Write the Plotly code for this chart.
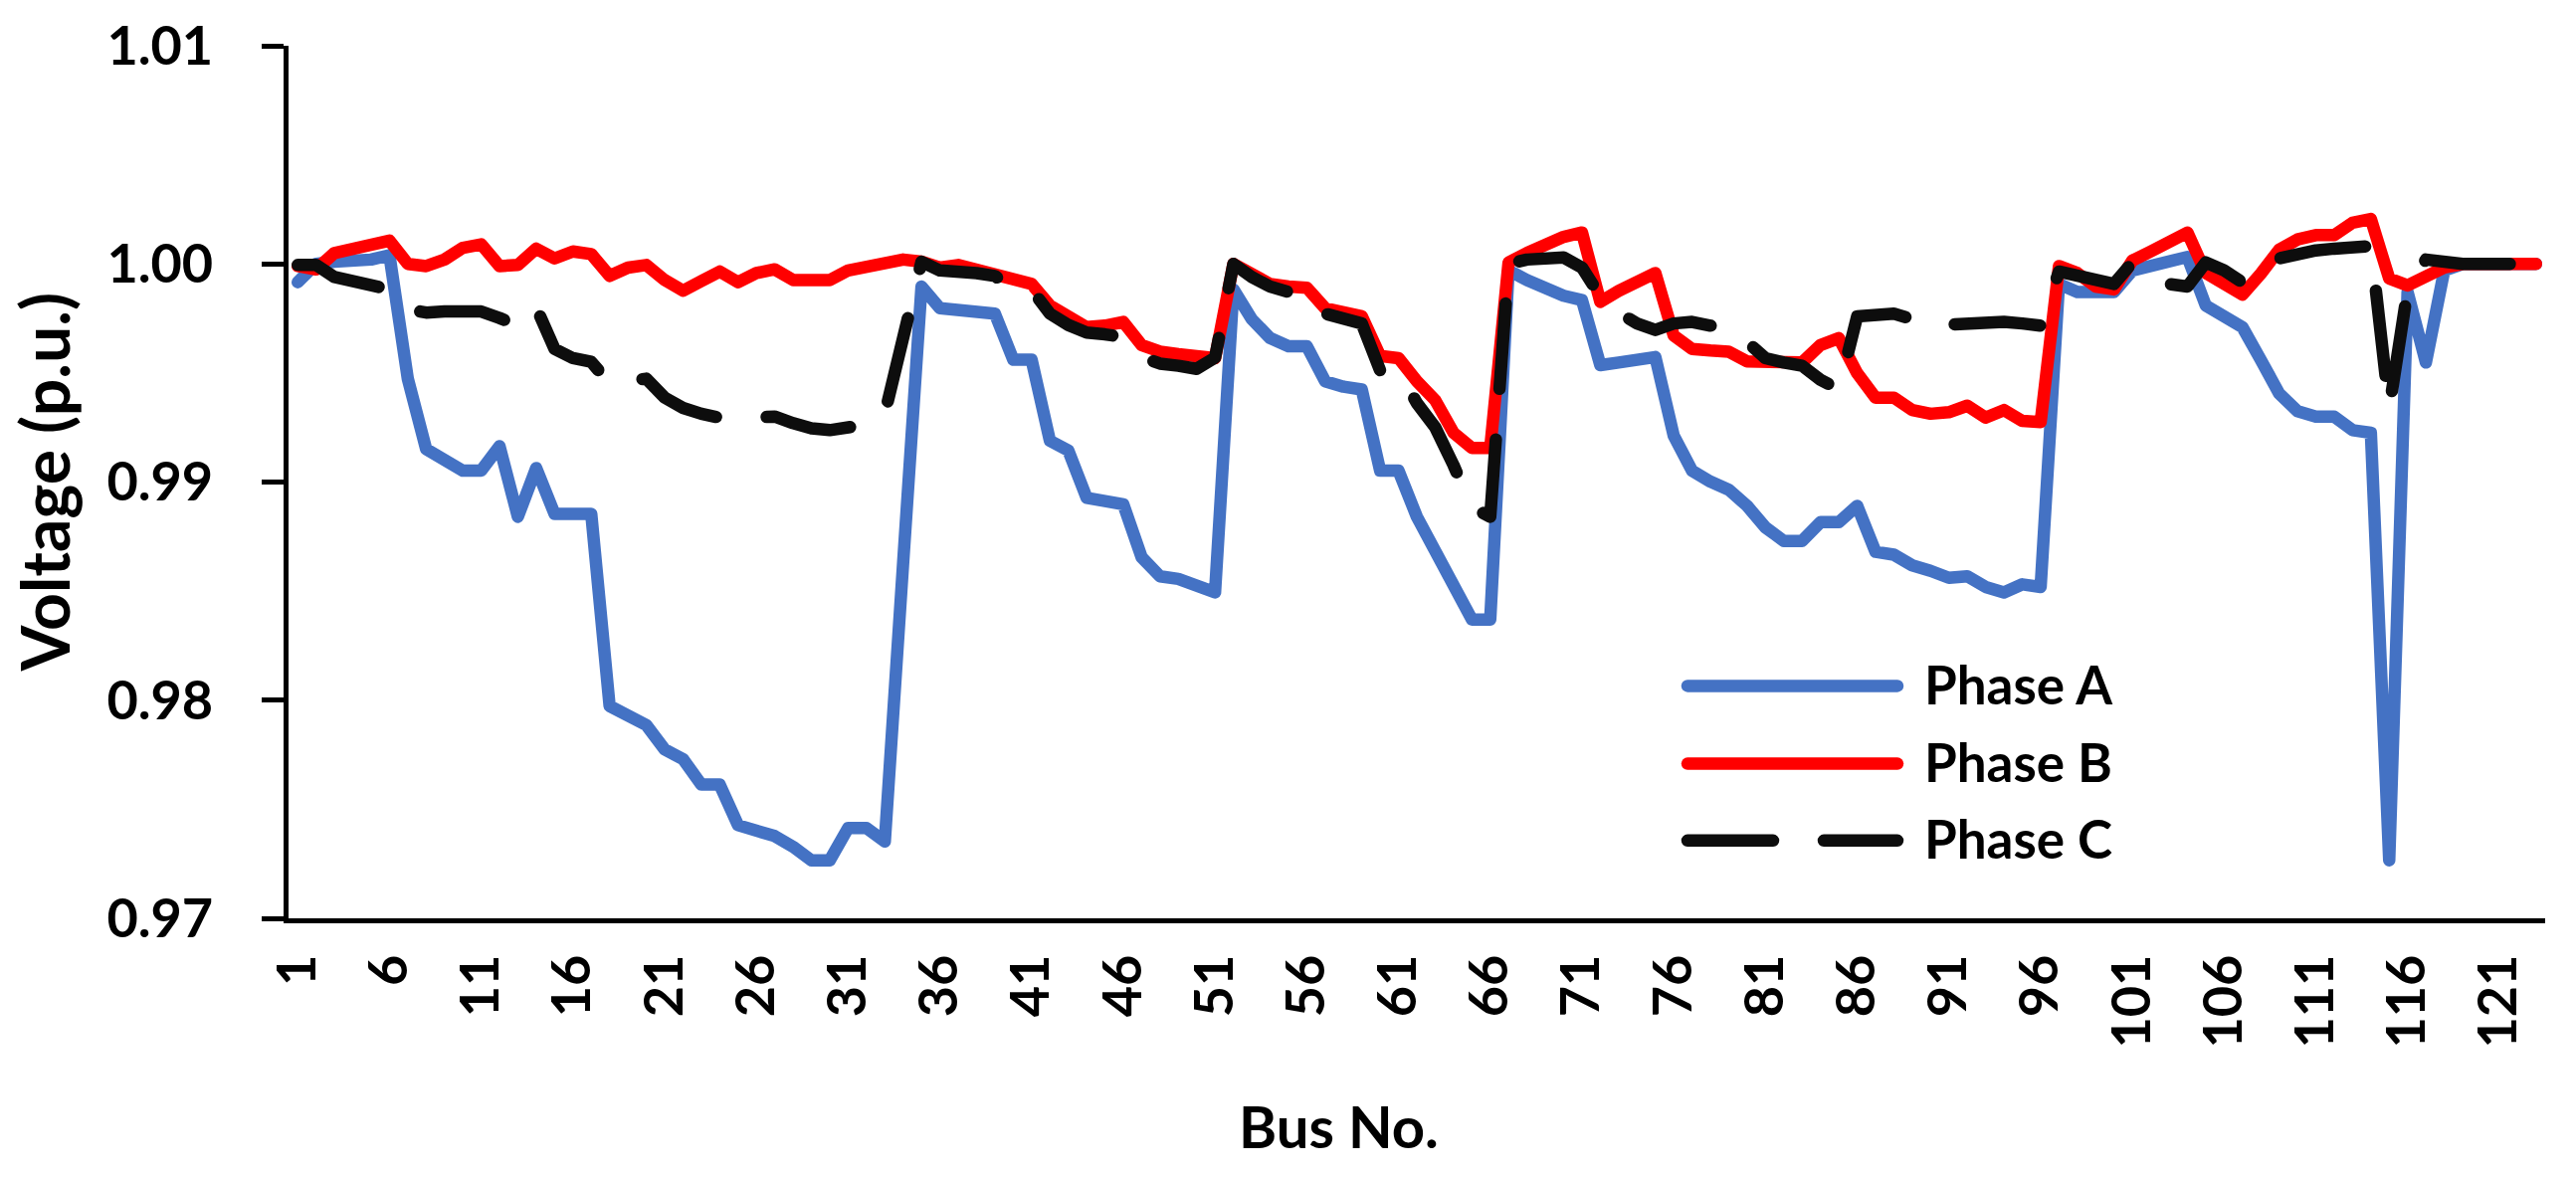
import plotly.graph_objects as go

bus = list(range(1, 124))

phase_a = [
    0.99916, 1.0000, 1.0001, 1.0001, 1.0002, 1.0004, 0.99474, 0.99151, 0.99102, 0.99052,
    0.99052, 0.99164, 0.98841, 0.99064, 0.98854, 0.98854, 0.98854, 0.97973, 0.97923, 0.97886,
    0.97774, 0.97730, 0.97613, 0.97613, 0.97427, 0.97402, 0.97377, 0.97328, 0.97266, 0.97266,
    0.97414, 0.97414, 0.97352, 0.98630, 0.99896, 0.99797, 0.99784, 0.99784, 0.99772, 0.99561,
    0.99561, 0.99189, 0.99145, 0.98928, 0.98908, 0.98898, 0.98655, 0.98568, 0.98556, 0.98531,
    0.98494, 0.99883, 0.99747, 0.99660, 0.99623, 0.99623, 0.99462, 0.99437, 0.99424, 0.99052,
    0.99052, 0.98841, 0.98692, 0.98543, 0.98370, 0.98370, 0.99970, 0.99926, 0.99883, 0.99854,
    0.99834, 0.99536, 0.99548, 0.99561, 0.99573, 0.99213, 0.99052, 0.99002, 0.98965, 0.98891,
    0.98792, 0.98730, 0.98730, 0.98816, 0.98816, 0.98891, 0.98680, 0.98667, 0.98618, 0.98593,
    0.98561, 0.98568, 0.98519, 0.98494, 0.98531, 0.98519, 0.99908, 0.99871, 0.99871, 0.99871,
    0.99970, 0.99995, 1.00007, 1.00032, 0.99809, 0.99759, 0.99710, 0.99560, 0.99406, 0.99325,
    0.99300, 0.99300, 0.99238, 0.99226, 0.97266, 0.99871, 0.99548, 0.99970, 1.0000, 1.0000,
    1.0000, 1.0000, 1.0000,
]

phase_b = [
    0.99990, 0.99975, 1.00050, 1.00070, 1.00090, 1.00107, 1.00000, 0.99990, 1.00020, 1.00074,
    1.00090, 0.99990, 0.99995, 1.00070, 1.00025, 1.00057, 1.00045, 0.99945, 0.99983, 0.99995,
    0.99926, 0.99877, 0.99921, 0.99965, 0.99916, 0.99958, 0.99975, 0.99926, 0.99926, 0.99926,
    0.99970, 0.99983, 1.00000, 1.00020, 1.00010, 0.99983, 0.99995, 0.99970, 0.99958, 0.99921,
    0.99908, 0.99809, 0.99753, 0.99710, 0.99717, 0.99734, 0.99628, 0.99598, 0.99586, 0.99573,
    0.99568, 1.00000, 0.99950, 0.99908, 0.99896, 0.99891, 0.99797, 0.99772, 0.99760, 0.99578,
    0.99568, 0.99462, 0.99375, 0.99226, 0.99156, 0.99156, 1.00007, 1.00050, 1.00094, 1.00124,
    1.00144, 0.99826, 0.99876, 0.99921, 0.99958, 0.99672, 0.99610, 0.99603, 0.99598, 0.99553,
    0.99548, 0.99548, 0.99548, 0.99628, 0.99660, 0.99499, 0.99387, 0.99387, 0.99330, 0.99313,
    0.99320, 0.99350, 0.99295, 0.99330, 0.99280, 0.99275, 0.99990, 0.99958, 0.99896, 0.99883,
    1.00015, 1.00057, 1.00100, 1.00144, 0.99958, 0.99908, 0.99859, 0.99955, 1.00065, 1.00112,
    1.00132, 1.00132, 1.00189, 1.00206, 0.99933, 0.99901, 0.99945, 0.99983, 1.00000, 1.00000,
    1.00000, 1.00000, 1.00000,
]

phase_c = [
    0.99995, 0.99995, 0.99940, 0.99920, 0.99900, 0.99883, 0.99792, 0.99777, 0.99782, 0.99784,
    0.99782, 0.99752, 0.99717, 0.99801, 0.99610, 0.99568, 0.99551, 0.99452, 0.99462, 0.99474,
    0.99387, 0.99340, 0.99313, 0.99295, 0.99293, 0.99300, 0.99300, 0.99270, 0.99246, 0.99238,
    0.99246, 0.99263, 0.99313, 0.99660, 1.00010, 0.99970, 0.99970, 0.99958, 0.99945, 0.99883,
    0.99883, 0.99772, 0.99720, 0.99685, 0.99677, 0.99665, 0.99573, 0.99543, 0.99533, 0.99519,
    0.99570, 1.00000, 0.99940, 0.99896, 0.99871, 0.99871, 0.99772, 0.99742, 0.99727, 0.99511,
    0.99511, 0.99362, 0.99251, 0.99077, 0.98885, 0.98841, 1.00000, 1.00020, 1.00027, 1.00030,
    0.99983, 0.99851, 0.99777, 0.99727, 0.99697, 0.99727, 0.99734, 0.99717, 0.99717, 0.99635,
    0.99568, 0.99548, 0.99533, 0.99469, 0.99424, 0.99759, 0.99759, 0.99772, 0.99747, 0.99717,
    0.99722, 0.99727, 0.99732, 0.99734, 0.99727, 0.99717, 0.99965, 0.99945, 0.99921, 0.99908,
    1.00007, 0.99958, 0.99908, 0.99896, 1.00007, 0.99970, 0.99915, 1.00007, 1.00030, 1.00050,
    1.00062, 1.00070, 1.00074, 1.00082, 0.99337, 0.99880, 1.00020, 1.00007, 1.00000, 1.00000,
    1.00000, 1.00000, 1.00000,
]

series_names = ["Phase A", "Phase B", "Phase C"]
x_tick_vals = list(range(1, 122, 5))
x_tick_text = [str(v) for v in x_tick_vals]
y_tick_vals = [0.97, 0.98, 0.99, 1.00, 1.01]
y_tick_text = ["0.97", "0.98", "0.99", "1.00", "1.01"]
x_title = "Bus No."
y_title = "Voltage (p.u.)"

# ---- styling ----
W, H = 2589, 1183
L, R, T, B = 290, 31, 37, 260
PW, PH = W - L - R, H - T - B
colors = ["#4472C4", "#FF0000", "#0D0D0D"]
dashes = ["solid", "solid", "86px,51px"]
LW = 12.5
FONT = "Lato"


def px_x(px):
    return (px - L) / PW


def px_y(py):
    return (H - B - py) / PH


fig = go.Figure()
for name, vals, col, dsh in zip(series_names, [phase_a, phase_b, phase_c], colors, dashes):
    fig.add_trace(go.Scatter(x=bus, y=vals, mode="lines", name=name,
                             line=dict(color=col, width=LW, dash=dsh),
                             showlegend=False))

# manual legend (long sample lines like the original)
leg_rows = [687, 766, 844]
shapes = []
annotations = []
for name, col, dsh, ry in zip(series_names, colors, dashes, leg_rows):
    shapes.append(dict(type="line", xref="paper", yref="paper",
                       x0=px_x(1696), x1=px_x(1907), y0=px_y(ry), y1=px_y(ry),
                       line=dict(color=col, width=LW, dash=dsh)))
    annotations.append(dict(text=name, xref="paper", yref="paper",
                            x=px_x(1932), y=px_y(ry - 2), xanchor="left", yanchor="middle",
                            showarrow=False,
                            font=dict(family=FONT, size=53, color="black", weight="bold")))

annotations.append(dict(text=x_title, xref="paper", yref="paper",
                        x=px_x(1345), y=px_y(1134), xanchor="center", yanchor="middle",
                        showarrow=False,
                        font=dict(family=FONT, size=58, color="black", weight="bold")))
annotations.append(dict(text=y_title, xref="paper", yref="paper", textangle=-90,
                        x=px_x(44), y=px_y(480), xanchor="center", yanchor="middle",
                        showarrow=False,
                        font=dict(family=FONT, size=66, color="black", weight="bold")))

fig.update_layout(
    width=W, height=H,
    margin=dict(l=L, r=R, t=T, b=B, pad=0),
    paper_bgcolor="white", plot_bgcolor="white",
    showlegend=False,
    shapes=shapes, annotations=annotations,
    font=dict(family=FONT, color="black"),
)
fig.update_xaxes(range=[0.5, 123.5], tickmode="array", tickvals=x_tick_vals, ticktext=x_tick_text,
                 tickangle=-90, showgrid=False, zeroline=False, showline=True,
                 linecolor="black", linewidth=5, ticks="", ticklabelstandoff=10,
                 ticklabeloverflow="allow",
                 tickfont=dict(family=FONT, size=54, color="black", weight="bold"))
fig.update_yaxes(range=[0.97, 1.01], tickmode="array", tickvals=y_tick_vals, ticktext=y_tick_text,
                 showgrid=False, zeroline=False, showline=True, linecolor="black", linewidth=5,
                 ticks="outside", ticklen=22, tickwidth=5, tickcolor="black",
                 ticklabelstandoff=38, ticklabeloverflow="allow",
                 tickfont=dict(family=FONT, size=54, color="black", weight="bold"))

post = """
document.documentElement.style.margin = '0';
document.body.style.margin = '0';
document.body.style.padding = '0';
document.querySelectorAll('.scatterlayer path.js-line, .shapelayer path').forEach(function(p){
  p.style.strokeLinecap = 'round';
  p.style.strokeLinejoin = 'round';
});
"""
fig.write_html("out.html", post_script=post, config={"displayModeBar": False, "staticPlot": True})
